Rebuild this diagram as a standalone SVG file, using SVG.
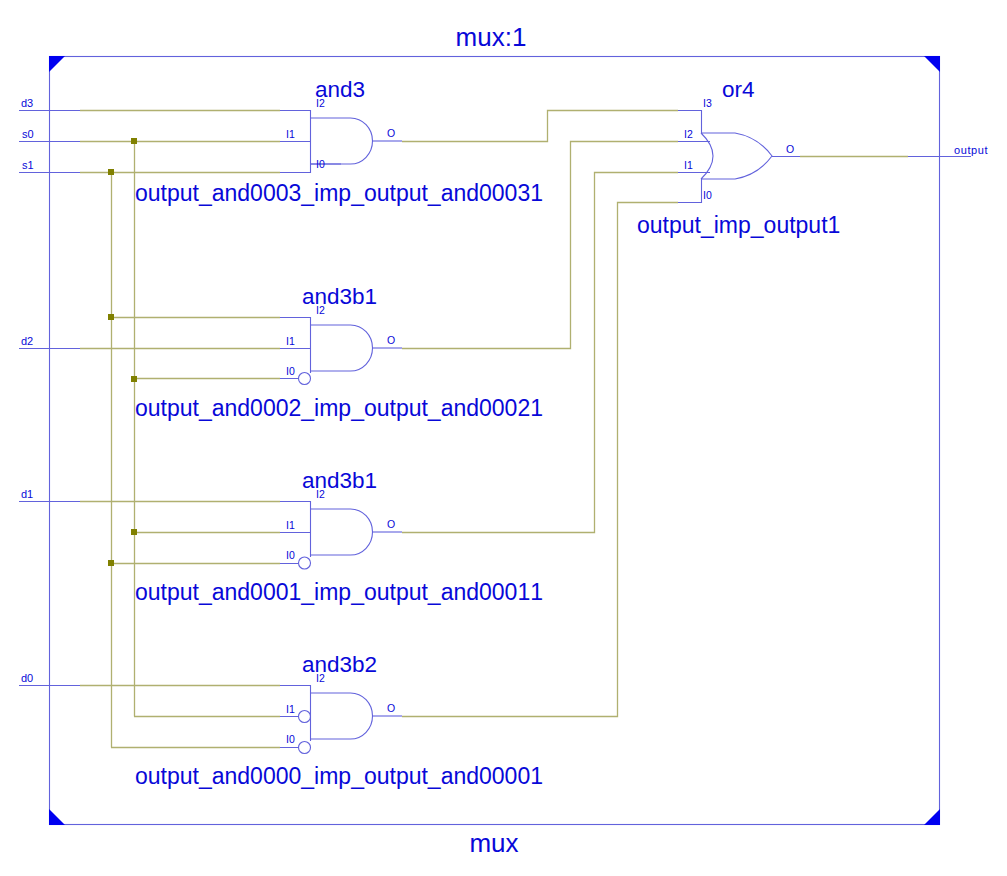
<svg xmlns="http://www.w3.org/2000/svg" width="1007" height="876" viewBox="0 0 1007 876">
<style>
text{font-family:"Liberation Sans",Arial,sans-serif;fill:#0808d8}
.b{font-size:23px;font-kerning:none}
.n{font-size:22.5px}
.t{font-size:26px}
.p{font-size:10.5px}
.s{font-size:11px}
.l{fill:none;stroke:#6262dc;stroke-width:1.1}
.w{fill:none;stroke:#b0b070;stroke-width:1.3}
.j{fill:#808000}
.c{fill:#0000f0}
</style>
<defs>
<g id="and"><path class="l" d="M310.5 8H350.5A22 23 0 0 1 372.5 31A22 23 0 0 1 350.5 54H310.5"/><path class="l" d="M372.5 31H402"/><text class="p" x="387" y="27">O</text></g>
<rect id="jn" x="-3" y="-3" width="6" height="6" class="j"/>
</defs>
<rect width="1007" height="876" fill="#fff"/>
<g id="frame">
<rect class="l" x="49.5" y="56.5" width="890" height="768"/>
<path class="c" d="M49 56H65L49 72ZM940 56V72L924 56ZM49 825V809L65 825ZM940 825H924L940 809Z"/>
<text class="t" x="491" y="46" text-anchor="middle">mux:1</text>
<text class="t" x="494" y="852" text-anchor="middle">mux</text>
</g>
<g id="connectors">
<path class="w" d="M80 110.5H280M80 141.5H280M80 172.5H280M402 141.5H547.5V110.5H678"/>
<path class="w" d="M111 317.5H280M80 348.5H280M134 378.5H280M402 348.5H570.5V141.5H678"/>
<path class="w" d="M80 501.5H280M134 532.5H280M111 563.5H280M402 532.5H594.5V172.5H678"/>
<path class="w" d="M80 685.5H280M134 716.5H280M111 747.5H280M402 716.5H617.5V202.5H678"/>
<path class="w" d="M111.5 172V747.5M134.5 141V716.5M800 156.5H908"/>
<use href="#jn" x="134" y="141"/><use href="#jn" x="111" y="172"/><use href="#jn" x="111" y="317"/><use href="#jn" x="134" y="379"/><use href="#jn" x="134" y="532"/><use href="#jn" x="111" y="563"/>
</g>
<g id="port_d3"><path class="l" d="M19 110.5H80"/><text class="s" x="21" y="107">d3</text></g>
<g id="port_s0"><path class="l" d="M19 141.5H80"/><text class="s" x="22" y="138">s0</text></g>
<g id="port_s1"><path class="l" d="M19 172.5H80"/><text class="s" x="22" y="169">s1</text></g>
<g id="port_d2"><path class="l" d="M19 348.5H80"/><text class="s" x="21" y="345">d2</text></g>
<g id="port_d1"><path class="l" d="M19 501.5H80"/><text class="s" x="21" y="498">d1</text></g>
<g id="port_d0"><path class="l" d="M19 685.5H80"/><text class="s" x="21" y="682">d0</text></g>
<g id="port_output"><path class="l" d="M908 156.5H971"/><text class="s" x="954" y="154" style="letter-spacing:.6px">output</text></g>
<g id="gate_and3">
<use href="#and" y="110"/>
<path class="l" d="M280 110.5H310.5V172.5H280M280 141.5H310.5M310.5 164H341"/>
<text class="p" x="316" y="107">I2</text><text class="p" x="286" y="138">I1</text><text class="p" x="316" y="168">I0</text>
<text class="n" x="315" y="97">and3</text>
<text class="b" x="135" y="201">output_and0003_imp_output_and00031</text>
</g>
<g id="gate_and3b1_2">
<use href="#and" y="317"/>
<path class="l" d="M280 317.5H310.5V373M280 348.5H310.5M280 378.5H298"/><circle class="l" cx="304.5" cy="378.5" r="6"/>
<text class="p" x="316" y="314">I2</text><text class="p" x="286" y="345">I1</text><text class="p" x="286" y="375">I0</text>
<text class="n" x="302" y="304">and3b1</text>
<text class="b" x="135" y="416">output_and0002_imp_output_and00021</text>
</g>
<g id="gate_and3b1_1">
<use href="#and" y="501"/>
<path class="l" d="M280 501.5H310.5V557M280 532.5H310.5M280 563.5H298"/><circle class="l" cx="304.5" cy="563" r="6"/>
<text class="p" x="316" y="498">I2</text><text class="p" x="286" y="529">I1</text><text class="p" x="286" y="559">I0</text>
<text class="n" x="302" y="488">and3b1</text>
<text class="b" x="135" y="600">output_and0001_imp_output_and00011</text>
</g>
<g id="gate_and3b2">
<use href="#and" y="685"/>
<path class="l" d="M280 685.5H310.5V741M280 716.5H298M280 747.5H298"/><circle class="l" cx="304.5" cy="716.5" r="6"/><circle class="l" cx="304.5" cy="747.5" r="6"/>
<text class="p" x="316" y="682">I2</text><text class="p" x="286" y="713">I1</text><text class="p" x="286" y="743">I0</text>
<text class="n" x="302" y="672">and3b2</text>
<text class="b" x="135" y="784">output_and0000_imp_output_and00001</text>
</g>
<g id="gate_or4">
<path class="l" d="M678 110.5H701.5V133M678 141.5H710M678 172.5H710M678 202.5H701.5V179"/>
<path class="l" d="M701 133Q725 156 701 179M701 133H735Q758 137 772 156Q758 175 735 179H701M772 156.5H800"/>
<text class="p" x="703" y="107">I3</text><text class="p" x="684" y="138">I2</text><text class="p" x="684" y="169">I1</text><text class="p" x="703" y="199">I0</text>
<text class="p" x="786" y="153">O</text>
<text class="n" x="722" y="97">or4</text>
<text class="b" x="637" y="233">output_imp_output1</text>
</g>
</svg>
